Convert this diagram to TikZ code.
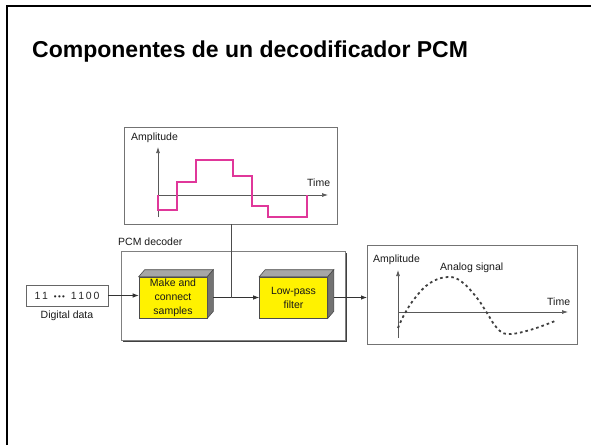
\documentclass[tikz,border=0pt]{standalone}
\usepackage{fontspec}
\setmainfont{Liberation Sans}
\usetikzlibrary{arrows.meta,shadows}
\definecolor{stepcol}{HTML}{E0379A}

\begin{document}
\begin{tikzpicture}[x=1pt,y=-1pt,
            lbl/.style={font=\fontsize{10.5}{12}\selectfont,text=black!90,inner sep=0pt},
            plotbox/.style={draw=black!55,line width=0.8pt,inner sep=0pt,outer sep=0pt},
            cube/.style={draw=black!70,fill=yellow,line width=0.6pt,minimum width=68pt,minimum height=41pt,inner sep=0pt,align=center,font=\fontsize{10.5}{14}\selectfont,text=black!90},
            arr/.style={-{Latex[length=6pt,width=4.5pt]},line width=0.8pt,black!80},
            axis/.style={-{Latex[length=6pt,width=4pt]},line width=0.7pt,black!65}]
            \useasboundingbox (0,0) rectangle (591,445);
            \draw[line width=2pt] (7,445) -- (7,6) -- (591,6);
            \node[anchor=base west,font=\fontsize{23}{27}\selectfont\bfseries,inner sep=0pt] (title) at (32,57) {Componentes de un decodificador PCM};

            \node[plotbox,minimum width=213pt,minimum height=97pt] (steps) at (231,175.5) {};
            \node[plotbox,minimum width=210pt,minimum height=99pt] (analog) at (472,294.5) {};
            \node[draw=black!50,fill=white,line width=0.8pt,minimum width=224pt,minimum height=89pt,inner sep=0pt,
                drop shadow={shadow xshift=2pt,shadow yshift=-2pt,fill=black!75,opacity=1}] (decoder) at (233,295.5) {};

            \node[cube] (make) at (173,297.5) {Make and\\connect\\samples};
            \node[cube] (lowpass) at (293.5,297.5) {Low-pass\\filter};
            \foreach \c in {make,lowpass} {
                \filldraw[fill=black!35,draw=black!70,line width=0.6pt] (\c.north west) -- ([shift={(6,-7)}]\c.north west) -- ([shift={(6,-7)}]\c.north east) -- (\c.north east) -- cycle;
                \filldraw[fill=black!55,draw=black!70,line width=0.6pt] (\c.north east) -- ([shift={(6,-7)}]\c.north east) -- ([shift={(6,-7)}]\c.south east) -- (\c.south east) -- cycle;
            }

            \node[draw=black!60,line width=0.7pt,minimum width=82pt,minimum height=21pt,inner sep=0pt,font=\fontsize{10.5}{12}\selectfont,text=black!85] (bits) at (67,295.5) {1\,1\; {\fontsize{8}{8}\selectfont •\,•\,•} \;1\,1\,0\,0};
            \node[lbl] (digital) at (67,316) {Digital data};
            \node[lbl,anchor=west] (pcm) at (118,242) {PCM decoder};

            \draw[arr] (bits.east) -- (bits.east -| make.west);
            \draw[arr] ([xshift=6pt]make.east) -- (lowpass.west);
            \draw[arr] ([xshift=6pt]lowpass.east) -- (lowpass.east -| analog.west);
            \draw[line width=0.8pt,black!70] (steps.south) -- (steps.south |- make.east);

            \draw[axis] (158,217) -- (158,147);
            \draw[axis] (158,195) -- (328,195);
            \draw[stepcol,line width=1.3pt] (158,195) -- (158,210) -- (177,210) -- (177,182) -- (196,182) -- (196,160) -- (233,160) -- (233,176) -- (252,176) -- (252,206) -- (268,206) -- (268,217) -- (307,217) -- (307,195);
            \node[lbl,anchor=west] (amp1) at (131,138) {Amplitude};
            \node[lbl,anchor=west] (time1) at (307,183) {Time};

            \draw[axis] (398,338) -- (398,270);
            \draw[axis] (398,312) -- (568,312);
            \draw[black!75,line width=1.8pt,dash pattern=on 2.6pt off 3pt] plot[smooth,tension=0.7] coordinates {(398,328) (404,315) (415,298) (430,283) (448,277) (462,282) (477,298) (487,313) (497,328) (508,334) (530,330) (555,321)};
            \node[lbl,anchor=west] (amp2) at (373,260) {Amplitude};
            \node[lbl,anchor=west] (time2) at (547,302) {Time};
            \node[lbl,anchor=west] (signal) at (440,268) {Analog signal};
        \end{tikzpicture}
\end{document}
